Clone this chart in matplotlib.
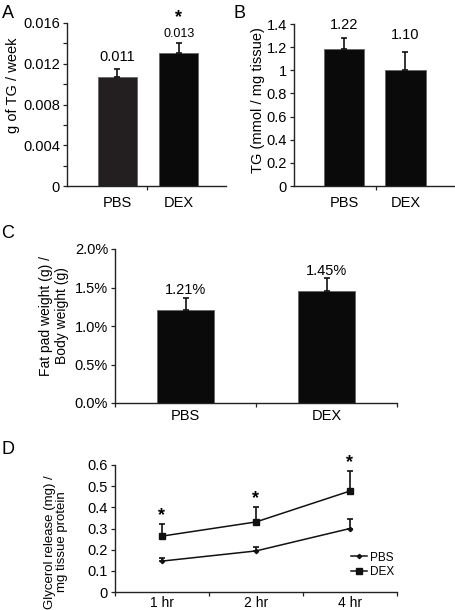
import matplotlib
matplotlib.use("Agg")
import matplotlib.pyplot as plt
from matplotlib.ticker import FixedLocator, MultipleLocator, FuncFormatter
from matplotlib.lines import Line2D

plt.rcParams['font.family'] = ['Liberation Sans', 'DejaVu Sans']
FS = 10.5

# ---- data ----
groups = ["PBS", "DEX"]
a_vals = [0.0107, 0.0131]
a_err = [0.0008, 0.0009]
a_labels = ["0.011", "0.013"]

b_vals = [1.18, 1.00]
b_err = [0.10, 0.16]
b_labels = ["1.22", "1.10"]

c_vals = [1.21, 1.455]
c_err = [0.15, 0.165]
c_labels = ["1.21%", "1.45%"]

times = ["1 hr", "2 hr", "4 hr"]
d_pbs = [0.146, 0.194, 0.300]
d_pbs_err = [0.016, 0.018, 0.044]
d_dex = [0.264, 0.331, 0.477]
d_dex_err = [0.055, 0.069, 0.095]
d_star = [0.36, 0.44, 0.61]

W, H = 456, 610
fig = plt.figure(figsize=(W / 100, H / 100), dpi=100)


def ax_px(l, t, r, b):
    return fig.add_axes([l / W, 1 - b / H, (r - l) / W, (b - t) / H])


def style(ax):
    for s in ['top', 'right']:
        ax.spines[s].set_visible(False)
    for s in ['left', 'bottom']:
        ax.spines[s].set_color('#222222')
        ax.spines[s].set_linewidth(1.0)
    ax.tick_params(axis='both', which='both', direction='out', length=3,
                   width=0.9, color='#222222', labelsize=FS, pad=2)


ekw = dict(elinewidth=1.2, capsize=2, capthick=1.2, ecolor='#111111')

# ---- Panel A ----
axA = ax_px(67, 23, 226, 186)
style(axA)
xa = [0, 1]
axA.bar(xa, a_vals, width=0.63, color=['#231f20', '#0a0a0a'],
        edgecolor='#666666', linewidth=0.6, zorder=2)
axA.errorbar(xa, a_vals, yerr=[[0, 0], a_err], fmt='none', zorder=3, **ekw)
axA.set_xlim(-0.81, 1.76)
axA.set_ylim(0, 0.016)
axA.set_yticks([0, 0.004, 0.008, 0.012, 0.016])
axA.set_yticklabels(["0", "0.004", "0.008", "0.012", "0.016"])
axA.yaxis.set_minor_locator(MultipleLocator(0.002))
axA.xaxis.set_major_locator(FixedLocator([0.48]))
axA.xaxis.set_major_formatter(FuncFormatter(lambda v, p: ""))
for x, g in zip(xa, groups):
    axA.text(x, -0.0017, g, ha='center', va='center', fontsize=FS)
axA.text(0, 0.01266, a_labels[0], ha='center', va='center', fontsize=FS)
axA.text(1, 0.0149, a_labels[1], ha='center', va='center', fontsize=9)
axA.text(1, 0.0165, "*", ha='center', va='center', fontsize=13,
         fontweight='bold', clip_on=False)
fig.text(13 / W, 1 - 85 / H, "g of TG / week", rotation=90,
         ha='center', va='center', fontsize=FS)
fig.text(8 / W, 1 - 13 / H, "A", ha='center', va='center', fontsize=13)

# ---- Panel B ----
axB = ax_px(294, 24, 456, 186)
style(axB)
axB.bar(xa, b_vals, width=0.65, color=['#0a0a0a', '#0a0a0a'],
        edgecolor='#666666', linewidth=0.6, zorder=2)
axB.errorbar(xa, b_vals, yerr=[[0, 0], b_err], fmt='none', zorder=3, **ekw)
axB.set_xlim(-0.81, 1.82)
axB.set_ylim(0, 1.4)
axB.set_yticks([0, 0.2, 0.4, 0.6, 0.8, 1.0, 1.2, 1.4])
axB.set_yticklabels(["0", "0.2", "0.4", "0.6", "0.8", "1", "1.2", "1.4"])
axB.xaxis.set_major_locator(FixedLocator([0.52]))
axB.xaxis.set_major_formatter(FuncFormatter(lambda v, p: ""))
for x, g in zip(xa, groups):
    axB.text(x, -0.15, g, ha='center', va='center', fontsize=FS)
axB.text(0, 1.39, b_labels[0], ha='center', va='center', fontsize=FS,
         clip_on=False)
axB.text(1, 1.305, b_labels[1], ha='center', va='center', fontsize=FS)
fig.text(258 / W, 1 - 100 / H, "TG (mmol / mg tissue)", rotation=90,
         ha='center', va='center', fontsize=FS)
fig.text(240 / W, 1 - 13 / H, "B", ha='center', va='center', fontsize=13)

# ---- Panel C ----
axC = ax_px(115, 249, 397, 403)
style(axC)
axC.bar(xa, c_vals, width=0.4, color='#0a0a0a',
        edgecolor='#666666', linewidth=0.6, zorder=2)
axC.errorbar(xa, c_vals, yerr=[[0, 0], c_err], fmt='none', zorder=3, **ekw)
axC.set_xlim(-0.5, 1.5)
axC.set_ylim(0, 2.0)
axC.set_yticks([0, 0.5, 1.0, 1.5, 2.0])
axC.set_yticklabels(["0.0%", "0.5%", "1.0%", "1.5%", "2.0%"])
axC.xaxis.set_major_locator(FixedLocator([-0.5, 0.5, 1.5]))
axC.xaxis.set_major_formatter(FuncFormatter(lambda v, p: ""))
for x, g in zip(xa, groups):
    axC.text(x, -0.17, g, ha='center', va='center', fontsize=FS)
axC.text(0, 1.47, c_labels[0], ha='center', va='center', fontsize=FS)
axC.text(1, 1.71, c_labels[1], ha='center', va='center', fontsize=FS)
fig.text(54 / W, 1 - 316 / H, "Fat pad weight (g) /\nBody weight (g)",
         rotation=90, ha='center', va='center', fontsize=10,
         multialignment='center', linespacing=1.1)
fig.text(8 / W, 1 - 233 / H, "C", ha='center', va='center', fontsize=13)

# ---- Panel D ----
axD = ax_px(115, 465, 397, 592)
style(axD)
xd = [0, 1, 2]
axD.errorbar(xd, d_pbs, yerr=[[0, 0, 0], d_pbs_err], color='#111111',
             lw=1.1, marker='D', ms=2.2, **ekw)
axD.errorbar(xd, d_dex, yerr=[[0, 0, 0], d_dex_err], color='#111111',
             lw=1.1, marker='s', ms=4, **ekw)
for x, s in zip(xd, d_star):
    axD.text(x, s, "*", ha='center', va='center', fontsize=13,
             fontweight='bold', clip_on=False)
axD.set_xlim(-0.5, 2.5)
axD.set_ylim(0, 0.6)
axD.set_yticks([0, 0.1, 0.2, 0.3, 0.4, 0.5, 0.6])
axD.set_yticklabels(["0", "0.1", "0.2", "0.3", "0.4", "0.5", "0.6"])
axD.xaxis.set_major_locator(FixedLocator([-0.5, 0.5, 1.5, 2.5]))
axD.xaxis.set_major_formatter(FuncFormatter(lambda v, p: ""))
for x, t in zip(xd, times):
    axD.text(x, -0.051, t, ha='center', va='center', fontsize=10)
handles = [Line2D([], [], color='#111111', lw=1.1, marker='D', ms=2.2),
           Line2D([], [], color='#111111', lw=1.1, marker='s', ms=4)]
axD.legend(handles, groups, loc='lower right', frameon=False,
           fontsize=8.5, handlelength=1.4, handletextpad=0.2,
           labelspacing=0.25, borderaxespad=0.1,
           bbox_to_anchor=(1.01, 0.06))
fig.text(56 / W, 1 - 542 / H, "Glycerol release (mg) /\nmg tissue protein",
         rotation=90, ha='center', va='center', fontsize=9.5,
         multialignment='center', linespacing=1.1)
fig.text(8 / W, 1 - 450 / H, "D", ha='center', va='center', fontsize=13)

fig.savefig("out.png", dpi=100)
